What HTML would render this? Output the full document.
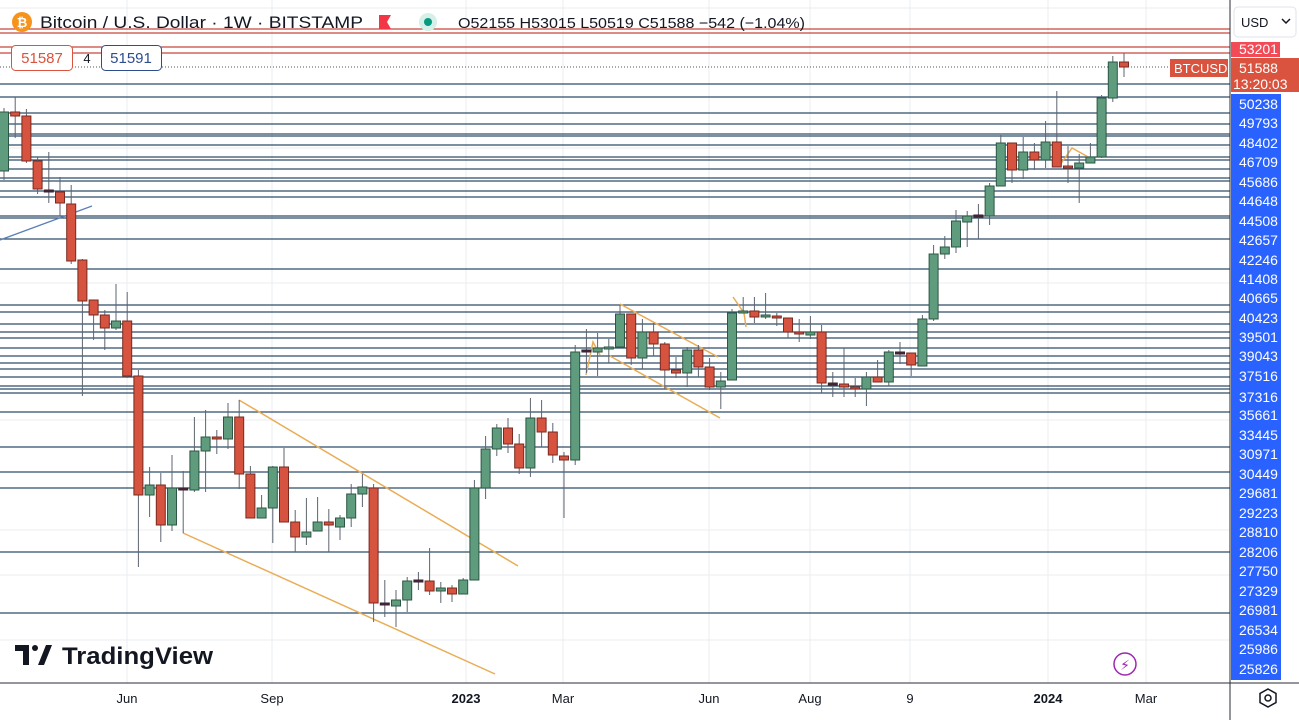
<!DOCTYPE html>
<html><head><meta charset="utf-8">
<style>
html,body{margin:0;padding:0;background:#fff;}
body{width:1299px;height:720px;overflow:hidden;position:relative;font-family:"Liberation Sans",sans-serif;}
svg{position:absolute;left:0;top:0;}
.ax text{font-size:14px;fill:#fff;font-family:"Liberation Sans",sans-serif;}
</style></head><body>
<svg id="s" width="1299" height="720" xmlns="http://www.w3.org/2000/svg">
<g id="grid" stroke="#e9edf2" stroke-width="1">
<line x1="127" y1="0" x2="127" y2="683"/><line x1="272" y1="0" x2="272" y2="683"/>
<line x1="466" y1="0" x2="466" y2="683"/><line x1="563" y1="0" x2="563" y2="683"/>
<line x1="709" y1="0" x2="709" y2="683"/><line x1="810" y1="0" x2="810" y2="683"/>
<line x1="910" y1="0" x2="910" y2="683"/><line x1="1048" y1="0" x2="1048" y2="683"/>
<line x1="1146" y1="0" x2="1146" y2="683"/>
<line x1="0" y1="8" x2="1230" y2="8"/><line x1="0" y1="148" x2="1230" y2="148"/>
<line x1="0" y1="283" x2="1230" y2="283"/><line x1="0" y1="420" x2="1230" y2="420"/>
<line x1="0" y1="530" x2="1230" y2="530"/><line x1="0" y1="575" x2="1230" y2="575"/>
<line x1="0" y1="640" x2="1230" y2="640"/>
</g>
<g id="hl" stroke="#2e4d6b" stroke-width="1.3"></g>
<g stroke="#c8473a" stroke-width="1.2">
<line x1="0" y1="29" x2="1230" y2="29"/><line x1="0" y1="33" x2="1230" y2="33"/>
<line x1="0" y1="47" x2="1230" y2="47"/><line x1="0" y1="53" x2="1230" y2="53"/>
</g>
<line x1="0" y1="67" x2="1170" y2="67" stroke="#555" stroke-width="1" stroke-dasharray="1,2"/>
<g stroke="#e9ad55" stroke-width="1.5" fill="none">
<line x1="239" y1="400" x2="518" y2="566"/>
<line x1="183" y1="533" x2="495" y2="674"/>
<line x1="620" y1="304" x2="718" y2="357"/>
<line x1="610" y1="356" x2="720" y2="418"/>
<polyline points="586,375 593,342 600,355"/>
<polyline points="733,297 744,313 746,327"/>
<polyline points="1060,165 1072,148 1090,158"/>
</g>
<line x1="0" y1="240" x2="92" y2="206" stroke="#5d7fb8" stroke-width="1.3"/>
<g id="c"></g>
<line x1="1230" y1="0" x2="1230" y2="720" stroke="#2a2e39" stroke-width="1"/>
<line x1="0" y1="683" x2="1299" y2="683" stroke="#2a2e39" stroke-width="1"/>
<rect x="1231" y="94" width="50" height="586" fill="#2962ff"/>
<rect x="1231" y="42" width="49" height="15" fill="#f23645" opacity="0.9"/>
<rect x="1231" y="58" width="68" height="34" fill="#d9533e"/>
<rect x="1170" y="59" width="58" height="18" fill="#d9533e"/>
<text x="1174" y="73" font-size="13" fill="#fff" font-family="Liberation Sans">BTCUSD</text>
<g class="ax">
<text x="1239" y="54">53201</text><text x="1239" y="73">51588</text><text x="1233" y="89">13:20:03</text>
<text x="1239" y="109">50238</text><text x="1239" y="128">49793</text><text x="1239" y="148">48402</text>
<text x="1239" y="167">46709</text><text x="1239" y="187">45686</text><text x="1239" y="206">44648</text>
<text x="1239" y="226">44508</text><text x="1239" y="245">42657</text><text x="1239" y="265">42246</text>
<text x="1239" y="284">41408</text><text x="1239" y="303">40665</text><text x="1239" y="323">40423</text>
<text x="1239" y="342">39501</text><text x="1239" y="361">39043</text><text x="1239" y="381">37516</text>
<text x="1239" y="402">37316</text><text x="1239" y="420">35661</text><text x="1239" y="440">33445</text>
<text x="1239" y="459">30971</text><text x="1239" y="479">30449</text><text x="1239" y="498">29681</text>
<text x="1239" y="518">29223</text><text x="1239" y="537">28810</text><text x="1239" y="557">28206</text>
<text x="1239" y="576">27750</text><text x="1239" y="596">27329</text><text x="1239" y="615">26981</text>
<text x="1239" y="635">26534</text><text x="1239" y="654">25986</text><text x="1239" y="674">25826</text>
</g>
<rect x="1234" y="7" width="62" height="30" rx="4" fill="#fff" stroke="#e0e3eb"/>
<text x="1241" y="27" font-size="13" fill="#131722" font-family="Liberation Sans">USD</text>
<polyline points="1282,19 1286,23 1290,19" fill="none" stroke="#131722" stroke-width="1.5"/>
<polygon points="1268,689 1276,693.5 1276,702.5 1268,707 1260,702.5 1260,693.5" fill="none" stroke="#131722" stroke-width="1.5"/>
<circle cx="1268" cy="698" r="3" fill="none" stroke="#131722" stroke-width="1.5"/>
<g font-size="13" fill="#131722" font-family="Liberation Sans" text-anchor="middle">
<text x="127" y="703">Jun</text><text x="272" y="703">Sep</text><text x="466" y="703" font-weight="bold">2023</text>
<text x="563" y="703">Mar</text><text x="709" y="703">Jun</text><text x="810" y="703">Aug</text>
<text x="910" y="703">9</text><text x="1048" y="703" font-weight="bold">2024</text><text x="1146" y="703">Mar</text>
</g>
<circle cx="22" cy="22" r="10" fill="#f7931a"/>
<text x="22" y="27" font-size="13" fill="#fff" text-anchor="middle" font-weight="bold" font-family="Liberation Sans">₿</text>
<text x="40" y="28" font-size="17" fill="#131722" font-family="Liberation Sans" textLength="323" lengthAdjust="spacingAndGlyphs">Bitcoin / U.S. Dollar · 1W · BITSTAMP</text>
<polygon points="379,15 391,15 387,22 391,29 379,29" fill="#f23645"/>
<circle cx="428" cy="22" r="9" fill="#d5f0e8"/><circle cx="428" cy="22" r="4" fill="#089981"/>
<text x="458" y="28" font-size="15" fill="#131722" font-family="Liberation Sans" textLength="347" lengthAdjust="spacingAndGlyphs">O52155 H53015 L50519 C51588 −542 (−1.04%)</text>
<rect x="11.5" y="45.5" width="61" height="25" rx="4" fill="#fff" stroke="#d9533e"/>
<text x="42" y="63" font-size="15" fill="#d9533e" text-anchor="middle" font-family="Liberation Sans">51587</text>
<text x="87" y="63" font-size="13" fill="#131722" text-anchor="middle" font-family="Liberation Sans">4</text>
<rect x="101.5" y="45.5" width="60" height="25" rx="4" fill="#fff" stroke="#2e4d8f"/>
<text x="131" y="63" font-size="15" fill="#2e4d8f" text-anchor="middle" font-family="Liberation Sans">51591</text>
<path d="M15 645 h14 v20 h-6 v-14 h-8z" fill="#131722"/>
<circle cx="35" cy="648" r="3" fill="#131722"/>
<path d="M38 665 l8 -20 h6 l-8 20z" fill="#131722"/>
<text x="62" y="664" font-size="24" font-weight="bold" fill="#131722" font-family="Liberation Sans" textLength="151" lengthAdjust="spacingAndGlyphs">TradingView</text>
<circle cx="1125" cy="664" r="11" fill="none" stroke="#9c27b0" stroke-width="1.5"/>
<text x="1125" y="670" font-size="14" fill="#9c27b0" text-anchor="middle" font-family="DejaVu Sans">⚡</text>
</svg>
<script>
var NS="http://www.w3.org/2000/svg";
var hl=[84,97,113,124,134,136,145,157,160,169,178,181,191,197,216,218,239,269,305,312,324,332,338,348,356,363,369,377,386,389,393,412,447,472,488,552,613];
var g=document.getElementById("hl");
hl.forEach(function(y){var l=document.createElementNS(NS,"line");l.setAttribute("x1",0);l.setAttribute("x2",1230);l.setAttribute("y1",y);l.setAttribute("y2",y);g.appendChild(l);});
var C=[
["g",112,171,108,180],["r",112,116,97,138],["r",116,161,109,163],["r",161,189,157,194],["d",190,192,152,203],
["r",192,203,177,216],["r",204,261,185,264],["r",260,301,259,396],["r",300,315,300,340],["r",315,328,310,350],
["g",321,328,284,330],["r",321,376,292,378],["r",376,495,370,567],["g",485,495,467,517],["r",485,525,473,542],
["g",488,525,455,531],["d",488,490,471,533],["g",451,490,417,492],["g",437,451,410,492],["r",437,439,430,454],
["g",417,439,403,449],["r",417,474,400,489],["r",474,518,466,518],["g",508,518,495,518],["g",467,508,466,543],
["r",467,522,448,522],["r",522,537,510,552],["g",532,537,498,545],["g",522,531,497,531],["r",522,525,509,552],
["g",518,527,515,540],["g",494,518,484,527],["g",487,494,474,507],["r",488,603,484,622],["d",603,605,580,617],
["g",600,606,590,627],["g",581,600,577,612],["d",580,582,572,590],["r",581,591,548,595],["g",588,591,582,603],
["r",588,594,585,602],["g",580,594,578,594],["g",488,580,480,580],["g",449,488,436,499],["g",428,449,424,456],
["r",428,444,418,453],["r",444,468,434,474],["g",418,468,398,477],["r",418,432,400,447],["r",432,455,423,463],
["r",456,460,452,518],["g",352,460,345,465],["d",350,352,329,373],["g",348,352,333,376],["g",347,349,339,363],
["g",314,347,305,347],["r",314,358,314,365],["g",332,358,319,369],["r",332,344,323,356],["r",344,370,342,389],
["r",370,373,357,378],["g",350,373,347,387],["r",350,367,345,377],["r",367,387,358,390],["g",381,387,372,409],
["g",313,380,309,380],["g",311,312,297,312],["r",311,317,297,323],["g",315,317,293,319],["r",316,318,313,326],
["r",318,332,318,338],["r",332,334,319,342],["g",332,335,316,339],["r",332,383,325,393],["d",383,385,372,397],
["r",384,387,348,397],["r",387,389,378,397],["g",377,389,372,406],["r",377,382,360,382],["g",352,382,350,386],
["d",352,354,342,364],["r",353,365,353,376],["g",319,366,315,366],["g",254,319,245,321],["g",247,254,236,259],
["g",221,247,210,253],["g",216,222,211,247],["d",215,217,204,239],["g",186,216,183,225],["g",143,186,135,186],
["r",143,170,143,183],["g",152,170,137,179],["r",152,160,143,170],["g",142,160,121,168],["r",142,167,91,167],
["r",166,168,146,183],["g",163,168,154,203],["g",157,163,143,163],["g",98,157,95,158],["g",62,98,56,102],
["r",62,67,53,77]];
var cg=document.getElementById("c");
C.forEach(function(c,i){
 var x=4+11.2*i;
 var w=document.createElementNS(NS,"line");
 w.setAttribute("x1",x);w.setAttribute("x2",x);w.setAttribute("y1",c[3]);w.setAttribute("y2",c[4]);
 w.setAttribute("stroke","#5d6470");w.setAttribute("stroke-width","1");cg.appendChild(w);
 var r=document.createElementNS(NS,"rect");
 var h=Math.max(c[2]-c[1],2);
 r.setAttribute("x",x-4.5);r.setAttribute("y",c[1]);r.setAttribute("width",9);r.setAttribute("height",h);
 var f,s;
 if(c[0]=="g"){f="#5f9c7e";s="#2b5744";}else if(c[0]=="r"){f="#d5533f";s="#7a2a20";}else{f="#4a2a35";s="#3a2030";}
 r.setAttribute("fill",f);r.setAttribute("stroke",s);r.setAttribute("stroke-width","1");cg.appendChild(r);
});
</script>
</body></html>
